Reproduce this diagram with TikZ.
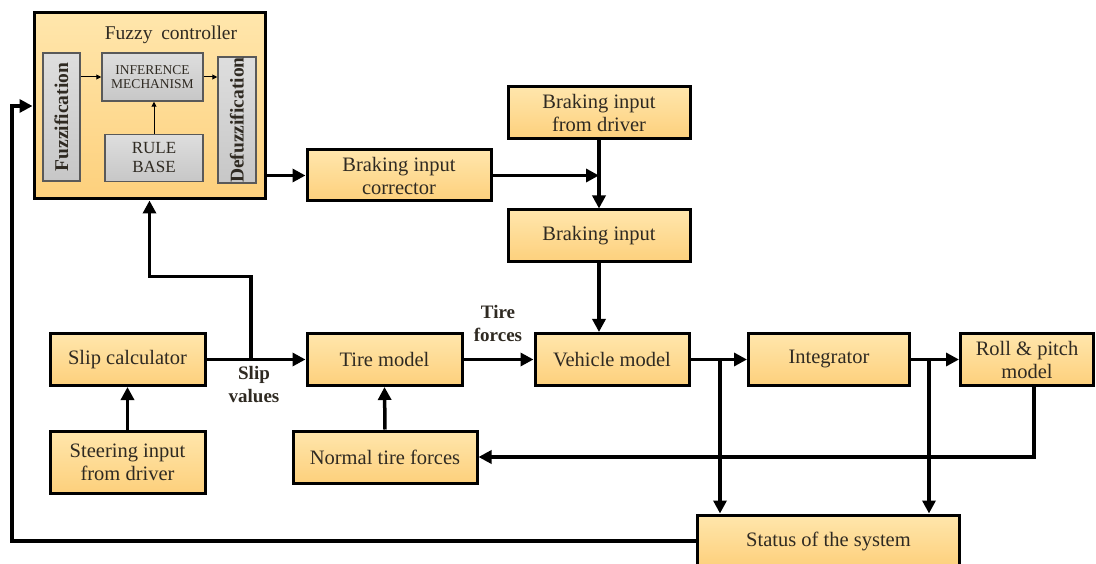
\documentclass[tikz,border=0pt]{standalone}
\usepackage{fontspec}
\setmainfont{Liberation Serif}
\usetikzlibrary{arrows.meta, positioning, calc}
\definecolor{boxtop}{HTML}{FFE6AC}
\definecolor{boxbot}{HTML}{FDD07C}
\definecolor{inktext}{HTML}{2F2A22}
\def\bigfont{\fontsize{20.5}{23}\selectfont}

\begin{document}
\begin{tikzpicture}[x=1pt, y=-1pt, >={Triangle[length=13pt,width=13pt]}]
    \tikzstyle{block}=[rectangle, draw=black, line width=3pt, top color=boxtop, bottom color=boxbot, text=inktext, align=center, inner sep=0pt, font=\bigfont]
    \tikzstyle{grey block}=[rectangle, draw=black!65, line width=1.5pt, top color=black!13, bottom color=black!22, text=inktext, align=center, inner sep=0pt]
    \tikzstyle{link}=[->, line width=3.5pt]
    \tikzstyle{thin link}=[-{Triangle[length=5pt,width=5pt]}, line width=1pt]
    \tikzstyle{annot}=[align=center, font=\bfseries\fontsize{19}{23}\selectfont, text=inktext]

    \useasboundingbox (0,0) rectangle (1096,564);

    % Draw the fuzzy controller and its parts
    \node[block, minimum width=231pt, minimum height=186pt] (fuzzy) at (149.5,106) {};
    \node[text=inktext, font=\fontsize{19.5}{22}\selectfont] (fctitle) at (171,35) {Fuzzy\hspace{0.2em} controller};
    \node[grey block, minimum width=37pt, minimum height=128pt] (fuzz) at (61.5,117)
        {\rotatebox{90}{\bfseries\fontsize{19.5}{22}\selectfont Fuzzification}};
    \node[grey block, minimum width=101pt, minimum height=48pt, font=\fontsize{13.5}{14}\selectfont] (infer) at (152.5,77) {INFERENCE\\MECHANISM};
    \node[grey block, minimum width=98pt, minimum height=47pt, font=\fontsize{17}{19}\selectfont] (rule) at (154,158) {RULE\\BASE};
    \node[grey block, minimum width=38pt, minimum height=126pt] (defuzz) at (237,120)
        {\rotatebox{90}{\bfseries\fontsize{19.5}{22}\selectfont Defuzzification}};

    % Draw the braking branch
    \node[block, minimum width=184pt, minimum height=51pt] (corr) at (399,175.5) {Braking input\\corrector};
    \node[block, minimum width=182pt, minimum height=52pt] (bdriver) at (599,113) {Braking input\\from driver};
    \node[block, minimum width=182pt, minimum height=52pt] (binput) at (599,236) {Braking input};

    % Draw the main row
    \node[block, minimum width=155pt, minimum height=52pt] (slip) at (127.5,359.5) {Slip calculator};
    \node[block, minimum width=155pt, minimum height=52pt] (tire) at (384.5,359.5) {Tire model};
    \node[block, minimum width=154pt, minimum height=52pt] (vehicle) at (612,359.5) {Vehicle model};
    \node[block, minimum width=161pt, minimum height=52pt] (integ) at (829,359.5) {Integrator};
    \node[block, minimum width=133pt, minimum height=52pt] (roll) at (1027,359.5) {Roll \& pitch\\model};

    % Draw the lower boxes
    \node[block, minimum width=155pt, minimum height=62pt] (steer) at (127.5,462) {Steering input\\from driver};
    \node[block, minimum width=184pt, minimum height=52pt] (normal) at (385,457) {Normal tire forces};
    \node[block, minimum width=262pt, minimum height=52pt] (status) at (828.5,541) {Status of the system};

    % Labels on the signal lines
    \node[annot] (slipval) at (254,385) {Slip\\values};
    \node[annot] (tireforce) at (498,324) {Tire\\forces};

    % Branch points
    \coordinate (sv) at (251,359.5);
    \coordinate (vj) at (720,359.5);
    \coordinate (ij) at (929,359.5);
    \coordinate (rj) at (1034,385.5);

    % Connect the parts inside the controller
    \draw[thin link] (infer.west -| fuzz.east) -- (infer.west);
    \draw[thin link] (infer.east) -- (infer.east -| defuzz.west);
    \draw[thin link] (rule.north) -- (rule.north |- infer.south);

    % Connect the braking branch
    \draw[link] (corr.west -| fuzzy.east) -- (corr.west);
    \draw[link] (corr.east) -- (corr.east -| bdriver.south);
    \draw[link] (bdriver.south) -- (binput.north);
    \draw[link] (binput.south) -- (binput.south |- vehicle.north);

    % Connect every block of the main row with the next one
    \foreach \source / \dest in {slip/tire, tire/vehicle, vehicle/integ, integ/roll}
        \draw[link] (\source) -- (\dest);

    \draw[link] (steer.north) -- (slip.south);
    \draw[link] (normal.north) -- (tire.south);
    \draw[link] (sv) |- ($(fuzzy.south)+(0,76)$) -- (fuzzy.south);
    \draw[link] (vj) -- (vj |- status.north);
    \draw[link] (ij) -- (ij |- status.north);
    \draw[link] (rj) |- (normal.east);
    \draw[link] (status.west) -- ++(-684,0) |- (fuzzy.west);
\end{tikzpicture}
\end{document}
